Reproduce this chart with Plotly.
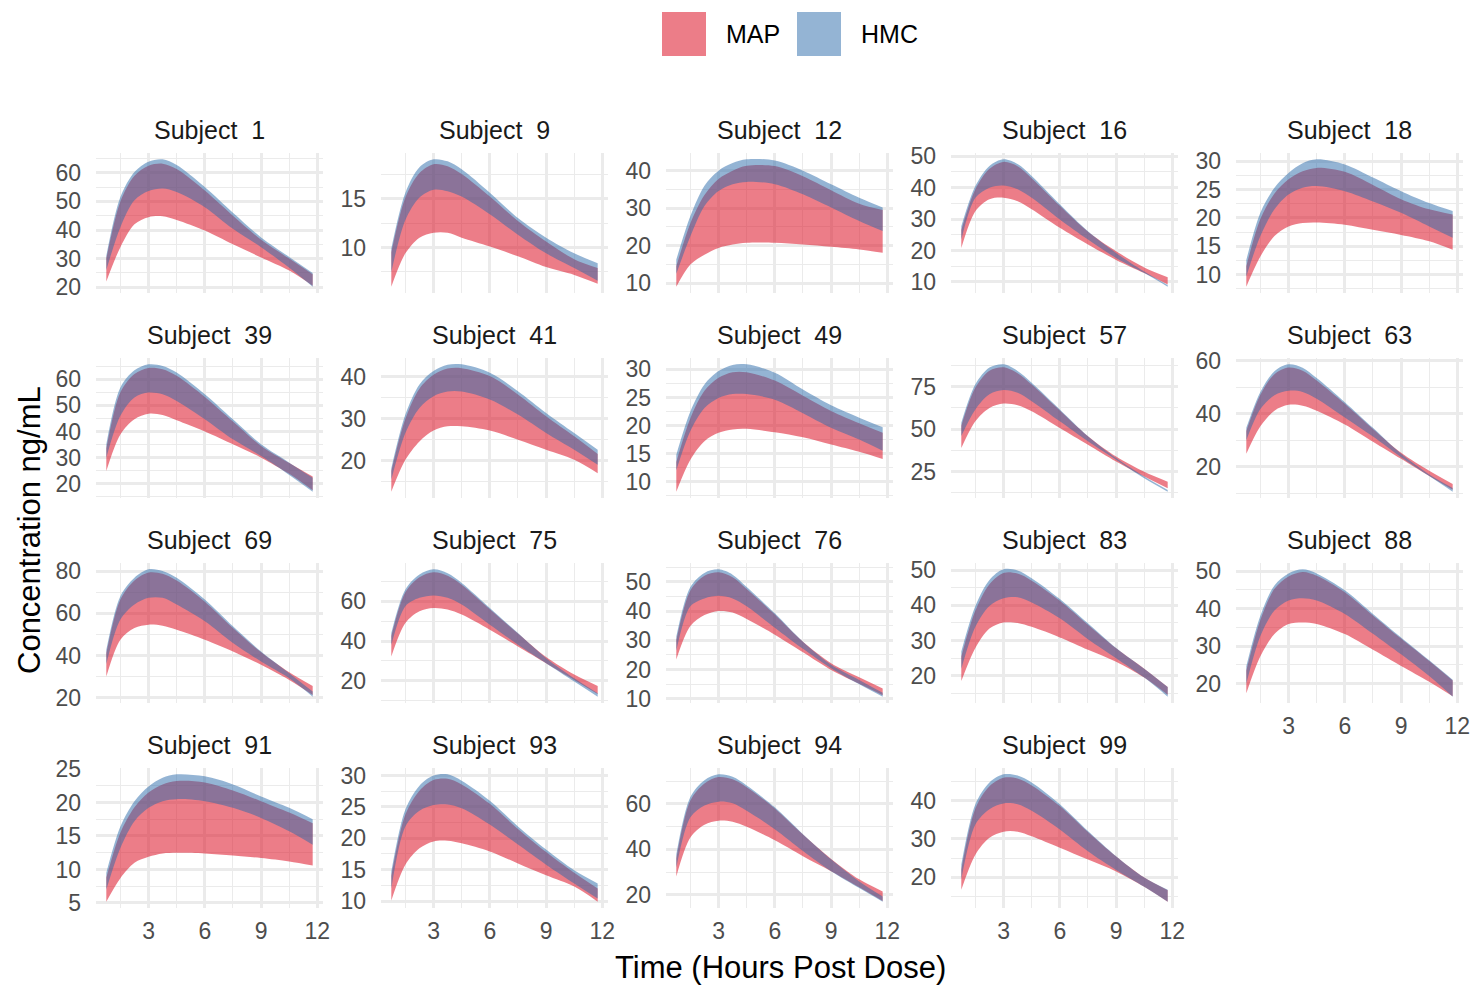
import plotly.graph_objects as go

# ---------------- data ----------------
time_h = [0.75, 1.5, 2.25, 3, 3.75, 4.5, 6, 7.5, 9, 10.5, 11.75]
subjects = [1, 9, 12, 16, 18, 39, 41, 49, 57, 63, 69, 75, 76, 83, 88, 91, 93, 94, 99]
y_steps = [10, 5, 10, 10, 5, 10, 10, 5, 25, 20, 20, 20, 10, 10, 10, 5, 5, 20, 10]
x_ticks = [3, 6, 9, 12]

map_lo_1 = [22, 34, 42, 44.5, 44.8, 43.5, 39.8, 35, 30.4, 25.8, 20.5]
map_hi_1 = [30, 50, 59, 62.5, 63.2, 61.3, 53.8, 45, 36.6, 30.0, 24.5]
hmc_lo_1 = [26, 41, 50.4, 53.6, 54.5, 53.3, 48, 40.4, 34, 26.8, 20.2]
hmc_hi_1 = [31, 51.5, 60.3, 63.9, 64.7, 62.7, 55, 46, 37.4, 30.6, 25]

map_lo_9 = [6.0, 9.4, 11.0, 11.5, 11.5, 11.0, 10.1, 9.1, 8.0, 7.2, 6.3]
map_hi_9 = [9.5, 15.1, 17.6, 18.5, 18.3, 17.5, 15.2, 12.7, 10.6, 8.8, 7.9]
hmc_lo_9 = [7.5, 12.8, 15.1, 15.9, 15.75, 15.2, 13.4, 11.3, 9.4, 7.9, 6.6]
hmc_hi_9 = [9.9, 15.6, 18.2, 19.0, 18.8, 18.0, 15.6, 13.0, 11.0, 9.4, 8.4]

map_lo_12 = [9.1, 15, 17.6, 19.4, 20.3, 20.8, 20.8, 20.3, 19.7, 19, 18.1]
map_hi_12 = [14.5, 26, 33.5, 37.8, 40, 41.3, 41.2, 38.5, 34.8, 31.2, 29.5]
hmc_lo_12 = [12.5, 22.5, 30.6, 34.6, 36.4, 37, 36.4, 33.7, 30.2, 26.6, 23.9]
hmc_hi_12 = [16.3, 27.9, 36, 40, 42, 43, 42.7, 40, 36.4, 32.8, 30.2]

map_lo_16 = [20.8, 32.5, 36.3, 36.8, 35.7, 33.1, 27.2, 21.9, 17, 12.8, 9.2]
map_hi_16 = [26.5, 39.5, 46, 48.2, 46.8, 43, 34.2, 26, 19.8, 14.6, 11.5]
hmc_lo_16 = [23.5, 36.8, 40, 40.7, 39.5, 36.8, 29.9, 23.5, 17.6, 12.8, 8.5]
hmc_hi_16 = [27.7, 40.5, 46.9, 49, 47.5, 43.7, 34.7, 26.1, 19.2, 13.3, 9]

map_lo_18 = [7.9, 13.2, 16.8, 18.5, 19.1, 19.2, 18.8, 17.9, 17, 15.9, 14.4]
map_hi_18 = [11.5, 19.8, 24.3, 26.8, 28.2, 28.8, 28.1, 25.8, 23.3, 21.5, 20.6]
hmc_lo_18 = [9.7, 16.8, 21.5, 24.1, 25.3, 25.6, 24.7, 22.9, 20.9, 18.5, 16.5]
hmc_hi_18 = [12.6, 20.9, 25.3, 27.9, 29.6, 30.3, 29.4, 27.1, 24.7, 22.6, 21.2]

map_lo_39 = [24.9, 38.9, 44.7, 46.8, 46.3, 44.3, 40, 35.1, 30, 23.8, 17.5]
map_hi_39 = [33.5, 55, 62, 64.3, 63.8, 61.3, 53.2, 43.8, 34.5, 28, 22.8]
hmc_lo_39 = [30, 46, 53, 54.9, 54.3, 51.7, 44.7, 37, 30.6, 23.4, 17.0]
hmc_hi_39 = [35.1, 56.8, 63.4, 65.7, 65.1, 62.6, 54.3, 44.7, 35.1, 28.1, 22.3]

map_lo_41 = [12.6, 20.2, 24.6, 27.2, 28.2, 28.2, 27.2, 25, 22.6, 20.2, 17]
map_hi_41 = [17.5, 30, 37.2, 40.5, 42, 42.1, 40.2, 35.8, 30.6, 25.8, 21.6]
hmc_lo_41 = [15.5, 26.6, 32.6, 35.4, 36.5, 36.5, 34.6, 31, 26.6, 22.6, 19]
hmc_hi_41 = [18.2, 31, 38.2, 41.4, 42.9, 43, 41, 36.6, 31.4, 26.6, 22.6]

map_lo_49 = [8.2, 13.9, 17.2, 18.7, 19.3, 19.4, 18.8, 17.9, 16.6, 15.3, 14]
map_hi_49 = [13.5, 21.3, 26.2, 28.5, 29.5, 29.5, 28, 25.3, 22.6, 20.4, 18.7]
hmc_lo_49 = [12, 19, 23.1, 24.9, 25.6, 25.6, 24.6, 22.2, 19.6, 17.5, 15.5]
hmc_hi_49 = [14.8, 22.5, 27.3, 29.7, 30.8, 30.9, 29.4, 26.4, 23.6, 21.4, 19.7]

map_lo_57 = [38.8, 54.6, 62.5, 65.1, 64.1, 60.6, 50.7, 40.8, 30.9, 22, 15.1]
map_hi_57 = [52, 74.5, 84.5, 86.5, 83, 76.3, 61, 45.8, 33.8, 24.8, 19]
hmc_lo_57 = [46, 61.6, 70.5, 73, 71.4, 66.5, 54.6, 42.8, 31.9, 21, 13.1]
hmc_hi_57 = [53.7, 76.4, 86.3, 88.2, 84.3, 77.4, 61.6, 45.8, 32.9, 22, 14.1]

map_lo_63 = [24.9, 35.3, 41.2, 43.4, 43.1, 41.2, 36, 29.5, 23, 16.5, 11.3]
map_hi_63 = [33.5, 47.2, 55, 57.5, 56.3, 52.6, 43.8, 34.3, 25.3, 18.5, 13.5]
hmc_lo_63 = [30, 41.8, 47, 48.7, 48.3, 45.7, 38.6, 31.4, 23.6, 16.5, 10.6]
hmc_hi_63 = [34.7, 48.3, 56.1, 58.7, 57.4, 53.5, 44.4, 34.7, 24.9, 17.1, 12]

map_lo_69 = [30, 47.5, 53, 54.6, 54.1, 52.2, 47.5, 41.9, 35.6, 28.4, 21.3]
map_hi_69 = [41, 66.5, 75.5, 79.3, 78.7, 75.5, 65.5, 53, 41.5, 32, 25.5]
hmc_lo_69 = [36, 57, 64.1, 67.3, 67.3, 64.1, 56.2, 45.9, 37.1, 29.2, 20.5]
hmc_hi_69 = [42.7, 68.1, 76.8, 80.8, 80, 76.8, 66.5, 53.8, 41.9, 31.6, 22.9]

map_lo_75 = [32.3, 49.1, 55, 56.6, 55.8, 53.3, 45.7, 37.3, 28.9, 20.5, 13.4]
map_hi_75 = [42.5, 64.5, 72, 74.5, 72.8, 68.3, 56, 43.8, 32, 23.2, 17.5]
hmc_lo_75 = [38, 57.5, 61.7, 62.9, 61.7, 58.3, 48.2, 38.2, 28.9, 19.7, 12.1]
hmc_hi_75 = [44, 65.9, 73.4, 76, 74, 69.2, 56.6, 44, 31.4, 21.3, 13.8]

map_lo_76 = [23.5, 34.9, 38.6, 40, 39.5, 37.3, 31.9, 25.9, 19.9, 15.2, 11.3]
map_hi_76 = [30, 47, 52, 53.2, 51.5, 47.5, 38.8, 29.5, 22.2, 17.4, 13.6]
hmc_lo_76 = [26.5, 41.6, 44.3, 45.2, 44.3, 41.6, 34.3, 27.1, 20.5, 15, 10.8]
hmc_hi_76 = [31.3, 48.2, 53, 54.2, 52.4, 48.2, 39.2, 29.5, 21.7, 16.5, 12.1]

map_lo_83 = [18.5, 27.9, 33.4, 35.1, 35, 33.9, 30.9, 27.4, 24, 19.5, 14.6]
map_hi_83 = [25.5, 38.5, 46, 49.2, 49, 47, 41.3, 34.5, 27.8, 22, 16.8]
hmc_lo_83 = [22, 33.9, 39.8, 42, 42.3, 40.8, 36.3, 30.4, 25, 19.5, 14.1]
hmc_hi_83 = [26.9, 39.8, 47.2, 50.2, 49.9, 47.7, 41.8, 34.9, 27.9, 22, 16.8]

map_lo_88 = [17.4, 27.3, 33.2, 35.9, 36.3, 35.9, 33.2, 29.0, 24.7, 20.5, 16.6]
map_hi_88 = [23.5, 37, 45.3, 48.6, 49.8, 48.8, 44.4, 38.2, 32, 26.0, 20.8]
hmc_lo_88 = [20, 32.7, 39.5, 42.2, 42.8, 42.2, 38.6, 33.3, 27.8, 22.0, 16.5]
hmc_hi_88 = [24.6, 38.1, 46.2, 49.4, 50.5, 49.4, 44.9, 38.6, 32.3, 26.2, 21]

map_lo_91 = [5.2, 8.7, 11, 11.9, 12.4, 12.5, 12.4, 12.1, 11.7, 11.2, 10.6]
map_hi_91 = [8.8, 15.5, 19.3, 21.5, 22.7, 23.2, 23, 21.8, 20.2, 18.5, 16.9]
hmc_lo_91 = [7, 13.2, 17.2, 19.2, 20.2, 20.5, 20.2, 19.2, 17.7, 15.7, 13.7]
hmc_hi_91 = [9.5, 16.4, 20.2, 22.4, 23.7, 24.2, 23.9, 22.7, 20.9, 19.2, 17.5]

map_lo_93 = [10.1, 15.8, 18.4, 19.5, 19.6, 19.2, 17.9, 16, 14.1, 12.3, 9.9]
map_hi_93 = [14, 23.8, 27.6, 29.3, 29.5, 28.6, 25.5, 21.5, 17.8, 14.5, 12]
hmc_lo_93 = [12, 21.9, 24.4, 25.3, 25.4, 24.8, 22.2, 19, 15.8, 12.8, 10.4]
hmc_hi_93 = [14.7, 24.6, 28.4, 30, 30.2, 29.2, 26, 21.9, 18.2, 14.9, 12.8]

map_lo_94 = [28.1, 45.2, 50.8, 52.6, 52.1, 49.9, 44, 37, 30.4, 23.3, 17.3]
map_hi_94 = [36, 61.5, 69, 71.8, 70.8, 67.3, 58, 46.5, 35.8, 26.8, 21.5]
hmc_lo_94 = [32, 54.1, 59.3, 61, 60.3, 57, 48.9, 39.3, 30.4, 23, 17]
hmc_hi_94 = [37.8, 63, 70.4, 73, 71.9, 68.1, 58.5, 46.7, 35.6, 25.9, 19.3]

map_lo_99 = [16.7, 25.9, 30.3, 31.9, 31.9, 30.7, 27.7, 24.6, 21.5, 17.5, 13.6]
map_hi_99 = [22, 38, 43.8, 46, 45.8, 44, 38.6, 31.8, 25.4, 19.9, 16.6]
hmc_lo_99 = [19.5, 33.8, 37.8, 39.3, 39.1, 37.4, 32.5, 26.8, 21.9, 17.5, 13.6]
hmc_hi_99 = [23.3, 39.1, 44.8, 46.9, 46.6, 44.8, 39.1, 32.1, 25.5, 19.9, 16.7]

# ---------------- styling ----------------
W, H = 1474, 985
FONT = "Liberation Sans, Arial, Helvetica, sans-serif"
RED = "rgba(220,18,38,0.55)"
BLUE = "rgba(41,105,169,0.5)"
GRID = "#EBEBEB"
TICK_COL = "#4D4D4D"

PANEL_L0, PANEL_W, COL_STEP = 96, 227, 285
PANEL_T0, PANEL_H, ROW_STEP = 153, 140, 205

g = globals()
fig = go.Figure()
annotations = []
layout = {}

t_min, t_max = min(time_h), max(time_h)
t_pad = 0.05 * (t_max - t_min)

for i, sid in enumerate(subjects):
    r, c = divmod(i, 5)
    n = i + 1
    xref = "x" if n == 1 else f"x{n}"
    yref = "y" if n == 1 else f"y{n}"
    mlo, mhi = g[f"map_lo_{sid}"], g[f"map_hi_{sid}"]
    hlo, hhi = g[f"hmc_lo_{sid}"], g[f"hmc_hi_{sid}"]

    for yvals, fill, color in [(mlo, None, None), (mhi, "tonexty", RED),
                               (hlo, None, None), (hhi, "tonexty", BLUE)]:
        tr = dict(x=time_h, y=yvals, mode="lines",
                  line=dict(width=0, shape="spline", smoothing=0.9),
                  showlegend=False, hoverinfo="skip", xaxis=xref, yaxis=yref)
        if fill:
            tr.update(fill=fill, fillcolor=color)
        fig.add_trace(go.Scatter(**tr))

    left = PANEL_L0 + c * COL_STEP
    top = PANEL_T0 + r * ROW_STEP
    right, bottom = left + PANEL_W, top + PANEL_H

    allv = mlo + mhi + hlo + hhi
    vmin, vmax = min(allv), max(allv)
    pad = 0.05 * (vmax - vmin)
    step = y_steps[i]

    show_x = (r == 3) or (r == 2 and c == 4)
    xa_name = "xaxis" if n == 1 else f"xaxis{n}"
    ya_name = "yaxis" if n == 1 else f"yaxis{n}"
    layout[xa_name] = dict(
        domain=[left / W, right / W], anchor=yref,
        range=[t_min - t_pad, t_max + t_pad],
        tickmode="array", tickvals=x_ticks, showticklabels=show_x,
        showgrid=True, gridcolor=GRID, gridwidth=2.6,
        minor=dict(dtick=1.5, tick0=0, showgrid=True, gridcolor=GRID, gridwidth=1.3),
        zeroline=False, showline=False, ticks="",
        tickfont=dict(size=23, color=TICK_COL, family=FONT),
        ticklabelstandoff=7, fixedrange=True, automargin=False,
    )
    layout[ya_name] = dict(
        domain=[1 - bottom / H, 1 - top / H], anchor=xref,
        range=[vmin - pad, vmax + pad],
        tickmode="linear", tick0=0, dtick=step,
        showgrid=True, gridcolor=GRID, gridwidth=2.6,
        minor=dict(dtick=step / 2, tick0=0, showgrid=True, gridcolor=GRID, gridwidth=1.3),
        zeroline=False, showline=False, ticks="",
        tickfont=dict(size=23, color=TICK_COL, family=FONT),
        ticklabelstandoff=14, fixedrange=True, automargin=False,
    )
    annotations.append(dict(
        text=f"Subject\u00a0 {sid}", x=(left + right) / 2 / W, y=1 - (top - 23) / H,
        xref="paper", yref="paper", showarrow=False, xanchor="center", yanchor="middle",
        font=dict(size=25, color="#1A1A1A", family=FONT)))

# axis titles
annotations.append(dict(text="Time (Hours Post Dose)", x=780 / W, y=1 - 967 / H,
                        xref="paper", yref="paper", showarrow=False,
                        xanchor="center", yanchor="middle",
                        font=dict(size=31, color="black", family=FONT)))
annotations.append(dict(text="Concentration ng/mL", x=29 / W, y=1 - 530 / H,
                        xref="paper", yref="paper", showarrow=False, textangle=-90,
                        xanchor="center", yanchor="middle",
                        font=dict(size=31, color="black", family=FONT)))

# legend (keys drawn as swatches, labels as text)
legend_items = [("MAP", RED, 662), ("HMC", BLUE, 797)]
shapes = []
for label, col, x0 in legend_items:
    shapes.append(dict(type="rect", xref="paper", yref="paper",
                       x0=x0 / W, x1=(x0 + 44) / W, y0=1 - 56 / H, y1=1 - 12 / H,
                       fillcolor=col, line=dict(width=0)))
    annotations.append(dict(text=label, x=(x0 + 62) / W, y=1 - 34 / H,
                            xref="paper", yref="paper", showarrow=False,
                            xanchor="left", yanchor="middle",
                            font=dict(size=25, color="black", family=FONT)))

fig.update_layout(
    width=W, height=H,
    margin=dict(l=0, r=0, t=0, b=0, pad=0, autoexpand=False),
    paper_bgcolor="white", plot_bgcolor="white",
    annotations=annotations, shapes=shapes,
    showlegend=False,
    **layout,
)

fig.write_html(
    "out.html",
    config={"displayModeBar": False},
    post_script=("document.body.style.margin='0px';"
                 "document.body.style.padding='0px';"
                 "document.documentElement.style.overflow='hidden';"),
)
